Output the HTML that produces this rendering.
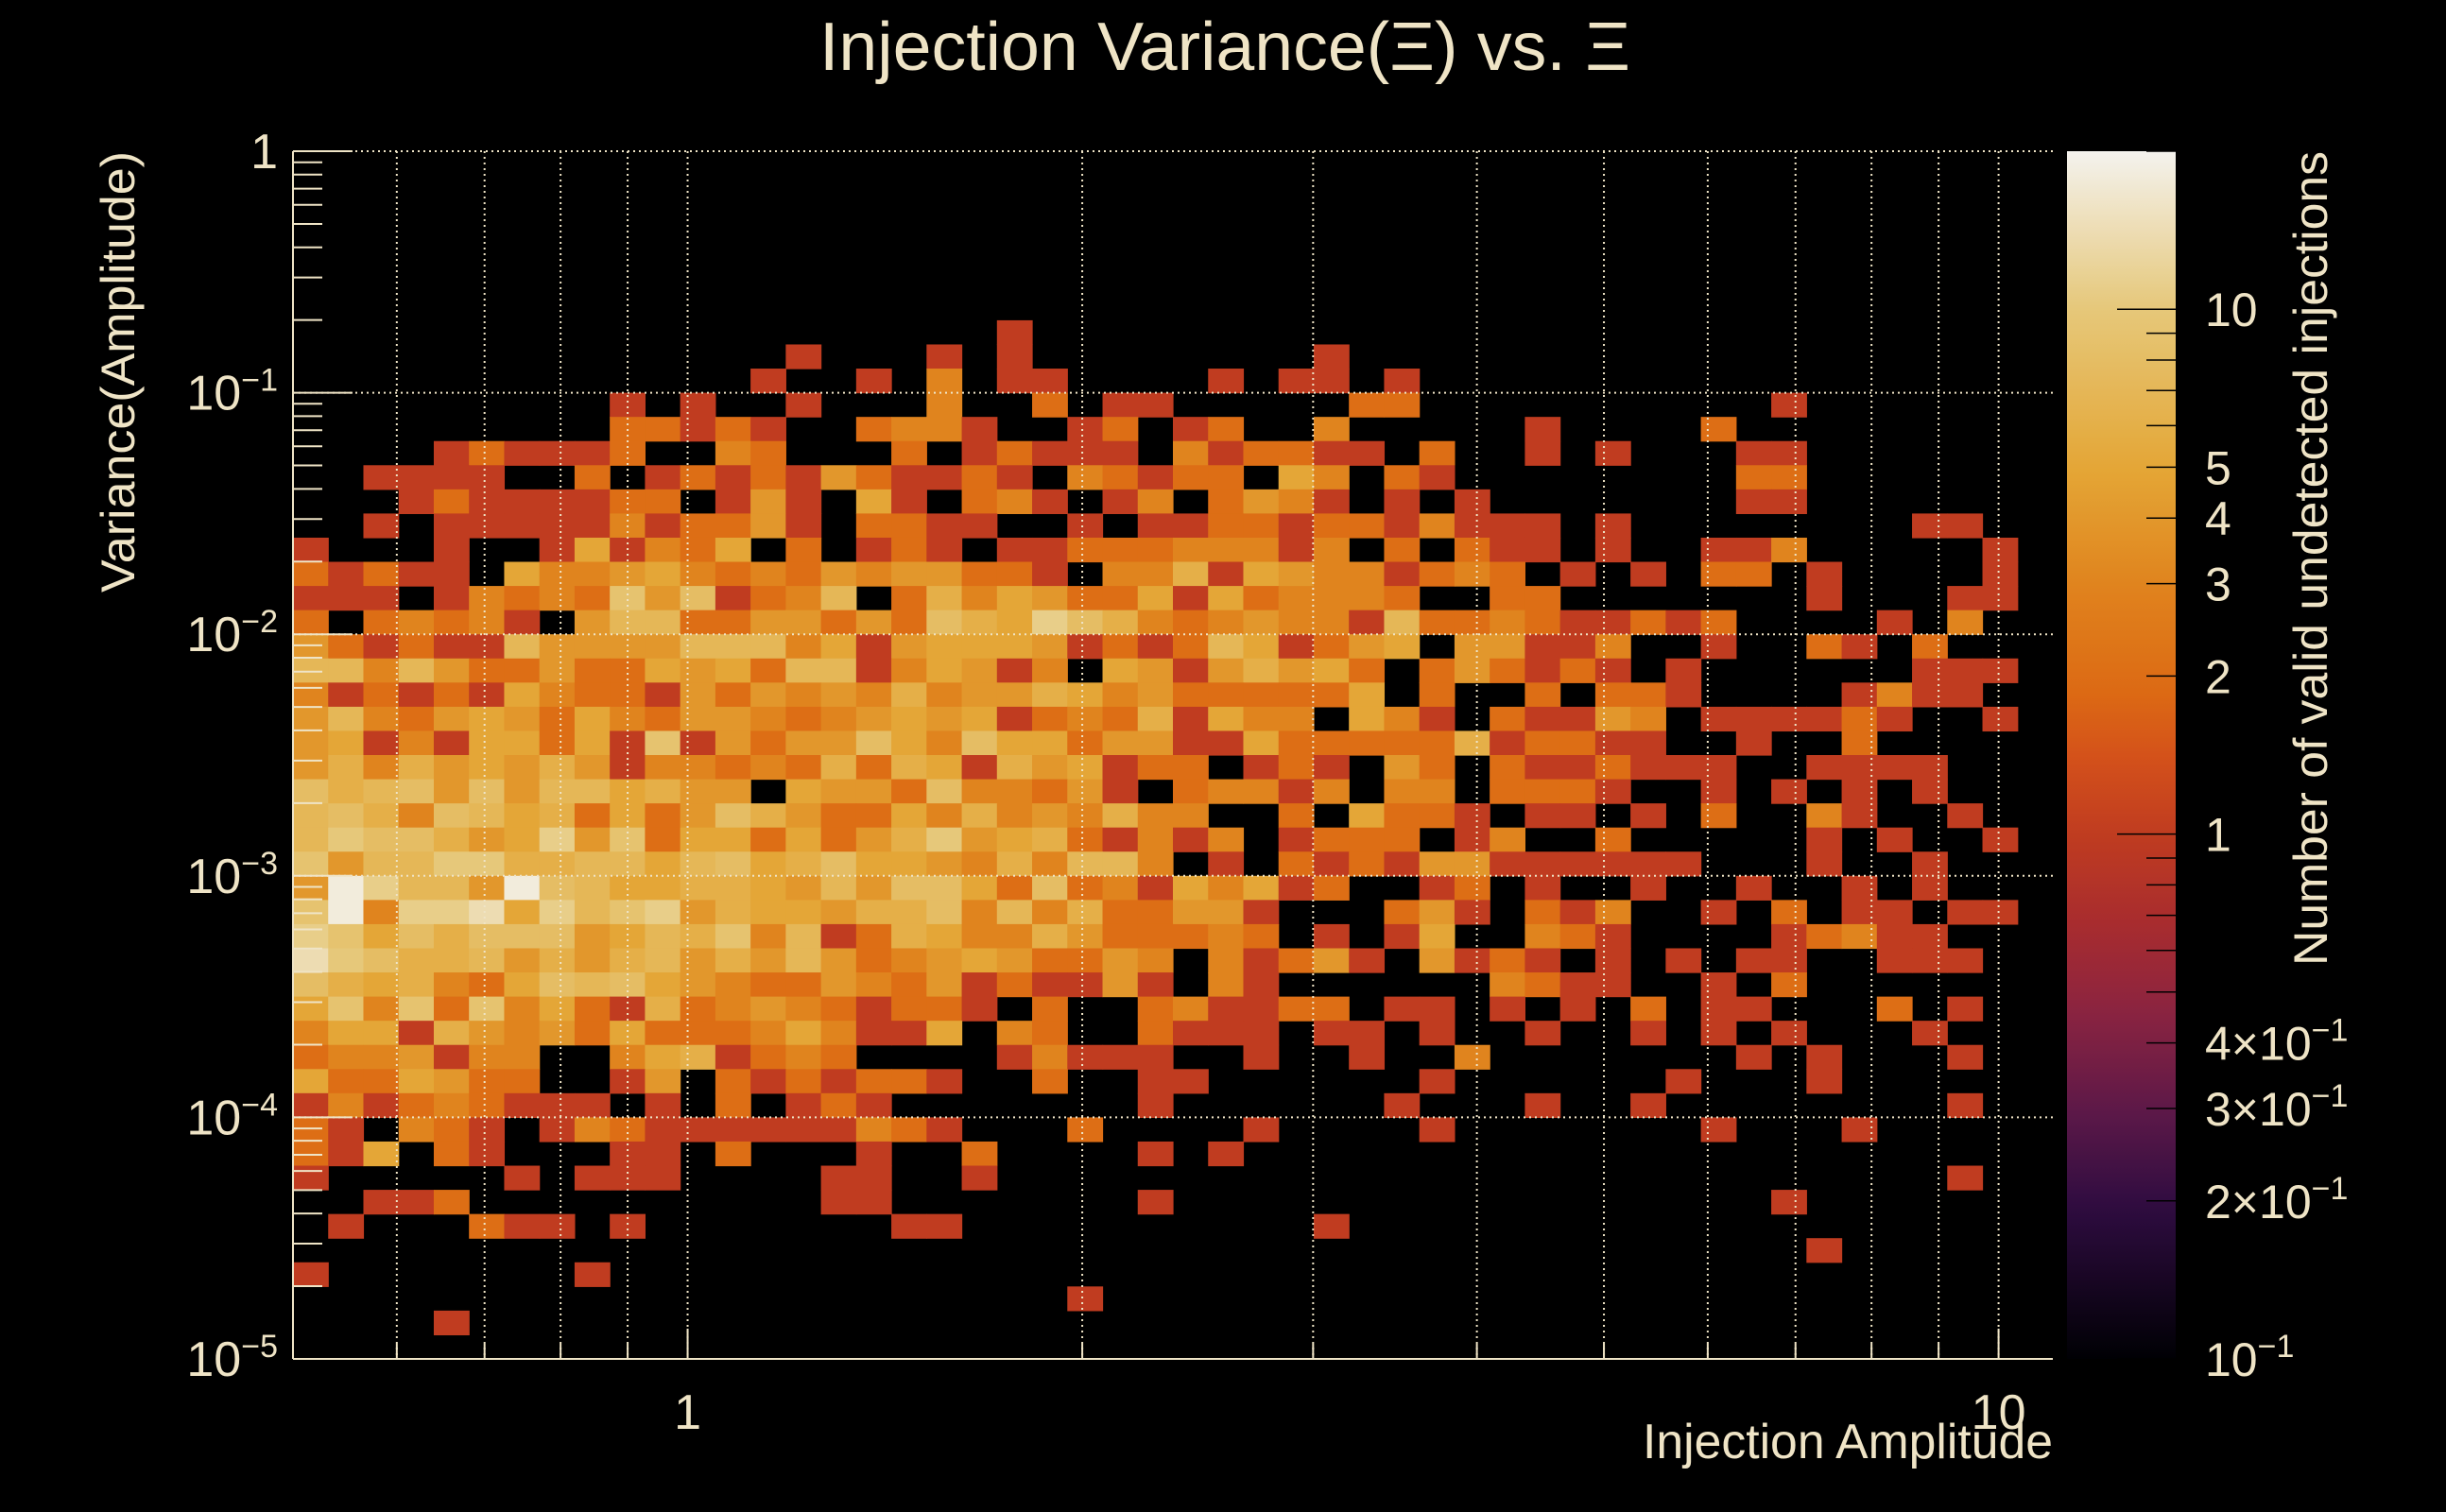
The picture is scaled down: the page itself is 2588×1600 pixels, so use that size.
<!DOCTYPE html>
<html><head><meta charset="utf-8"><title>Injection Variance vs Amplitude</title>
<style>
html,body{margin:0;padding:0;background:#000;}
svg{display:block;}
text{font-family:"Liberation Sans",sans-serif;fill:#efe4c6;}
</style></head>
<body>
<svg id="chart" xmlns="http://www.w3.org/2000/svg" width="2588" height="1600" viewBox="0 0 2588 1600">
<rect x="0" y="0" width="2588" height="1600" fill="#000"/>
<text x="1296" y="74" font-size="72" text-anchor="middle" textLength="858" lengthAdjust="spacingAndGlyphs">Injection Variance(Ξ) vs. Ξ</text>
<g id="cells"></g>
<g id="grid"></g>
<g id="axes"></g>
<g id="cbar"></g>
<text x="2172" y="1543" font-size="52" text-anchor="end" textLength="434" lengthAdjust="spacingAndGlyphs">Injection Amplitude</text>
<text transform="translate(142,160) rotate(-90)" x="0" y="0" font-size="50" text-anchor="end" textLength="467" lengthAdjust="spacingAndGlyphs">Variance(Amplitude)</text>
<text transform="translate(2462,160) rotate(-90)" x="0" y="0" font-size="50" text-anchor="end" textLength="862" lengthAdjust="spacingAndGlyphs">Number of valid undetected injections</text>
</svg>
<script>
// ---- data (bins: 50 log-spaced in x from 0.5 to 11, 50 log-spaced in y from 1e-5 to 1) ----
const xRange = [0.5, 11];
const yRange = [1e-5, 1];
const zRange = [0.1, 20];
const xTickLabels = ["1", "10"];
const xTickValues = [1, 10];
const yTickValues = [1, 0.1, 0.01, 0.001, 0.0001, 0.00001];
const yTickExponents = ["", "−1", "−2", "−3", "−4", "−5"];
const zTickValues = [10, 5, 4, 3, 2, 1, 0.4, 0.3, 0.2, 0.1];
const zTickLabels = ["10", "5", "4", "3", "2", "1", "4×10", "3×10", "2×10", "10"];
const zTickExps = ["", "", "", "", "", "", "−1", "−1", "−1", "−1"];
// counts per row, row 0 = top bin (variance near 1); chars base-36 (a=10 ... i=18)
const countRows = [
"00000000000000000000000000000000000000000000000000",
"00000000000000000000000000000000000000000000000000",
"00000000000000000000000000000000000000000000000000",
"00000000000000000000000000000000000000000000000000",
"00000000000000000000000000000000000000000000000000",
"00000000000000000000000000000000000000000000000000",
"00000000000000000000000000000000000000000000000000",
"00000000000000000000100000000000000000000000000000",
"00000000000000100010100000000100000000000000000000",
"00000000000001001030110000101101000000000000000000",
"00000000010100100030020110000022000000000010000000",
"00000000022121002331001201200300000100002000000000",
"00001211120032000201211103122110200101000110000000",
"00111100201212142112103212205302100000000220000000",
"00012111122014105102310130243101010000000110000000",
"00101111131224102211001011221221311101000000001100",
"10001001513250201210112223331302021101001130000010",
"21211053345323243442210336154331232010102201000010",
"11101323294812370263542251523332002200000001000110",
"202323104772244242865b86323433172232112120000103000".slice(0,50),
"42121174444777351455541212751245044113001002102000",
"77374224225452771354130541464520242121010000001110",
"31212153221424343634465342222250200202210000131100",
"47324542532443234545123261533053102114301111210010",
"45131552519142448538552441152222261221100100200000",
"46364546413323262651645122012104202112111001111000",
"86784847756440544283324102331303302221001010101000",
"78638756252486422536343633002052210110102003100100",
"7a88645b4925525246a456213130122201300200000101001".padEnd(50,"0"),
"9477aa66775785685543637730102121441111110001001000",
"4ib774i8755665474885282315351200120100100100101000",
"9i3bbe5b79b46554668373622441000241021300102011011".padEnd(50,"0"),
"b95868884576937126533642223201015003210000123110000".slice(0,50),
"ea866746467464742345422430312410412101010110011100".slice(0,50),
"86563258785432243241211410310000003211001020000000",
"59392935216234321221020023112201101010201100020100",
"35516434252223531150320021110110100100101010001000",
"23341330035612320000131110010010030000000101000100",
"52254220014021212210020011000000100000010001000000",
"13123211101020121000000010000001000100100000000100",
"21032101321111113210002000010000100000001000100000",
"21502100011020001002000010100000000000000000000000",
"10000010111000011001000000000000000000000000000100",
"00112000000000011000000010000000000000000010000000",
"01000211010000000110000000000100000000000000000000",
"00000000000000000000000000000000000000000001000000",
"10000000100000000000000000000000000000000000000000",
"00000000000000000000001000000000000000000000000000",
"00001000000000000000000000000000000000000000000000",
"00000000000000000000000000000000000000000000000000"
];
// palette stops (position along log z axis, colour)
const palettePos = [0, 0.125, 0.2, 0.29, 0.36, 0.435, 0.5, 0.553, 0.643, 0.737, 0.87, 1];
const paletteCol = ["#000004","#2e0c40","#5a1848","#8c2440","#a82c2e","#c03c20","#d4521a","#dc6a14","#e0841e","#e4a636","#e6c87a","#f4f2ee"];

// ---- geometry ----
const PL = 310, PR = 2172, PT = 160, PB = 1438;
const CBL = 2187, CBR = 2302;
const NS = "http://www.w3.org/2000/svg";
const lx0 = Math.log10(xRange[0]), lx1 = Math.log10(xRange[1]);
const ly0 = Math.log10(yRange[0]), ly1 = Math.log10(yRange[1]);
function xScale(v){ return PL + (Math.log10(v) - lx0) / (lx1 - lx0) * (PR - PL); }
function yScale(v){ return PB - (Math.log10(v) - ly0) / (ly1 - ly0) * (PB - PT); }
function zScale(v){ return PB - (Math.log10(v) - Math.log10(zRange[0])) / (Math.log10(zRange[1]) - Math.log10(zRange[0])) * (PB - PT); }
function hex2rgb(h){ return [parseInt(h.substr(1,2),16), parseInt(h.substr(3,2),16), parseInt(h.substr(5,2),16)]; }
function colorAt(t){
  t = Math.max(0, Math.min(1, t));
  for (let i = 1; i < palettePos.length; i++) {
    if (t <= palettePos[i]) {
      const f = (t - palettePos[i-1]) / (palettePos[i] - palettePos[i-1]);
      const a = hex2rgb(paletteCol[i-1]), b = hex2rgb(paletteCol[i]);
      return "rgb(" + a.map((c,k)=>Math.round(c + (b[k]-c)*f)).join(",") + ")";
    }
  }
  return paletteCol[paletteCol.length-1];
}
function zColor(v){ return colorAt((Math.log10(v) - Math.log10(zRange[0])) / (Math.log10(zRange[1]) - Math.log10(zRange[0]))); }
function mk(tag, attrs, parent){
  const e = document.createElementNS(NS, tag);
  for (const k in attrs) e.setAttribute(k, attrs[k]);
  parent.appendChild(e);
  return e;
}

// ---- cells ----
const cellsG = document.getElementById("cells");
const nRows = countRows.length, nCols = 50;
for (let r = 0; r < nRows; r++) {
  const row = countRows[r];
  for (let c = 0; c < nCols; c++) {
    const v = parseInt(row[c] || "0", 36);
    if (!v) continue;
    const xa = Math.pow(10, lx0 + (lx1 - lx0) * c / nCols);
    const xb = Math.pow(10, lx0 + (lx1 - lx0) * (c + 1) / nCols);
    const ya = Math.pow(10, ly1 - (ly1 - ly0) * r / nRows);
    const yb = Math.pow(10, ly1 - (ly1 - ly0) * (r + 1) / nRows);
    const x = xScale(xa), w = xScale(xb) - x;
    const y = yScale(ya), h = yScale(yb) - y;
    const rc = mk("rect", {x: x.toFixed(2), y: y.toFixed(2), width: (w + 0.6).toFixed(2), height: (h + 0.6).toFixed(2), fill: zColor(v)}, cellsG);
    
    
  }
}

// ---- grid ----
const gridG = document.getElementById("grid");
const xGridVals = [0.6,0.7,0.8,0.9,1,2,3,4,5,6,7,8,9,10];
xGridVals.forEach(v => {
  const X = xScale(v);
  const l = mk("line", {x1: X, x2: X, y1: PT, y2: PB, stroke: "#efe4c6", "stroke-width": 2, "stroke-dasharray": "2 4"}, gridG);
  
  
});
yTickValues.forEach(v => {
  const Y = yScale(v);
  const l = mk("line", {x1: PL, x2: PR, y1: Y, y2: Y, stroke: "#efe4c6", "stroke-width": 2, "stroke-dasharray": "2 4"}, gridG);
  
  
});

// ---- axes ----
const axG = document.getElementById("axes");
const la = mk("line", {x1: PL, x2: PL, y1: PT, y2: PB, stroke: "#efe4c6", "stroke-width": 2}, axG);


const lb = mk("line", {x1: PL, x2: PR, y1: PB, y2: PB, stroke: "#efe4c6", "stroke-width": 2}, axG);


// y ticks
for (let d = -5; d <= 0; d++) {
  for (let m = 1; m <= 9; m++) {
    const v = m * Math.pow(10, d);
    if (v > 1.0001) continue;
    const Y = yScale(v);
    const len = m === 1 ? 63 : 31;
    const t = mk("line", {x1: PL, x2: PL + len, y1: Y, y2: Y, stroke: "#efe4c6", "stroke-width": 2}, axG);
    
    
  }
}
yTickValues.forEach((v, i) => {
  const Y = yScale(v);
  const t = mk("text", {x: 294, y: Y + 18, "font-size": 52, "text-anchor": "end"}, axG);
  
  
  if (yTickExponents[i] === "") { t.textContent = "1"; }
  else {
    const a = document.createElementNS(NS, "tspan"); a.textContent = "10"; t.appendChild(a);
    const b = document.createElementNS(NS, "tspan"); b.textContent = yTickExponents[i];
    b.setAttribute("font-size", 34); b.setAttribute("dy", -20); t.appendChild(b);
  }
});
// x ticks
for (let d = -1; d <= 1; d++) {
  for (let m = 1; m <= 9; m++) {
    const v = m * Math.pow(10, d);
    if (v < xRange[0] - 1e-9 || v > xRange[1]) continue;
    const X = xScale(v);
    const len = m === 1 ? 32 : 16;
    const t = mk("line", {x1: X, x2: X, y1: PB, y2: PB - len, stroke: "#efe4c6", "stroke-width": 2}, axG);
    
    
  }
}
xTickValues.forEach((v, i) => {
  const t = mk("text", {x: xScale(v), y: 1512, "font-size": 52, "text-anchor": "middle"}, axG);
  
  
  t.textContent = xTickLabels[i];
});

// ---- color bar ----
const cbG = document.getElementById("cbar");
const defs = mk("defs", {}, cbG);
const grad = mk("linearGradient", {id: "cbgrad", x1: 0, y1: 1, x2: 0, y2: 0}, defs);
for (let k = 0; k <= 60; k++) {
  mk("stop", {offset: (k/60).toFixed(4), "stop-color": colorAt(k/60)}, grad);
}
const cbr = mk("rect", {x: CBL, y: PT, width: CBR - CBL, height: PB - PT, fill: "url(#cbgrad)"}, cbG);


for (let d = -1; d <= 1; d++) {
  for (let m = 1; m <= 9; m++) {
    const v = m * Math.pow(10, d);
    if (v < zRange[0] || v > zRange[1]) continue;
    const Y = zScale(v);
    const len = m === 1 ? 62 : 31;
    const t = mk("line", {x1: CBR, x2: CBR - len, y1: Y, y2: Y, stroke: "#000", "stroke-width": 1.5}, cbG);
    
    
  }
}
zTickValues.forEach((v, i) => {
  const Y = zScale(v);
  const t = mk("text", {x: 2333, y: Y + 18, "font-size": 50, "text-anchor": "start"}, cbG);
  
  
  const a = document.createElementNS(NS, "tspan"); a.textContent = zTickLabels[i]; t.appendChild(a);
  if (zTickExps[i]) {
    const b = document.createElementNS(NS, "tspan"); b.textContent = zTickExps[i];
    b.setAttribute("font-size", 34); b.setAttribute("dy", -20); t.appendChild(b);
  }
});
</script>
</body></html>
